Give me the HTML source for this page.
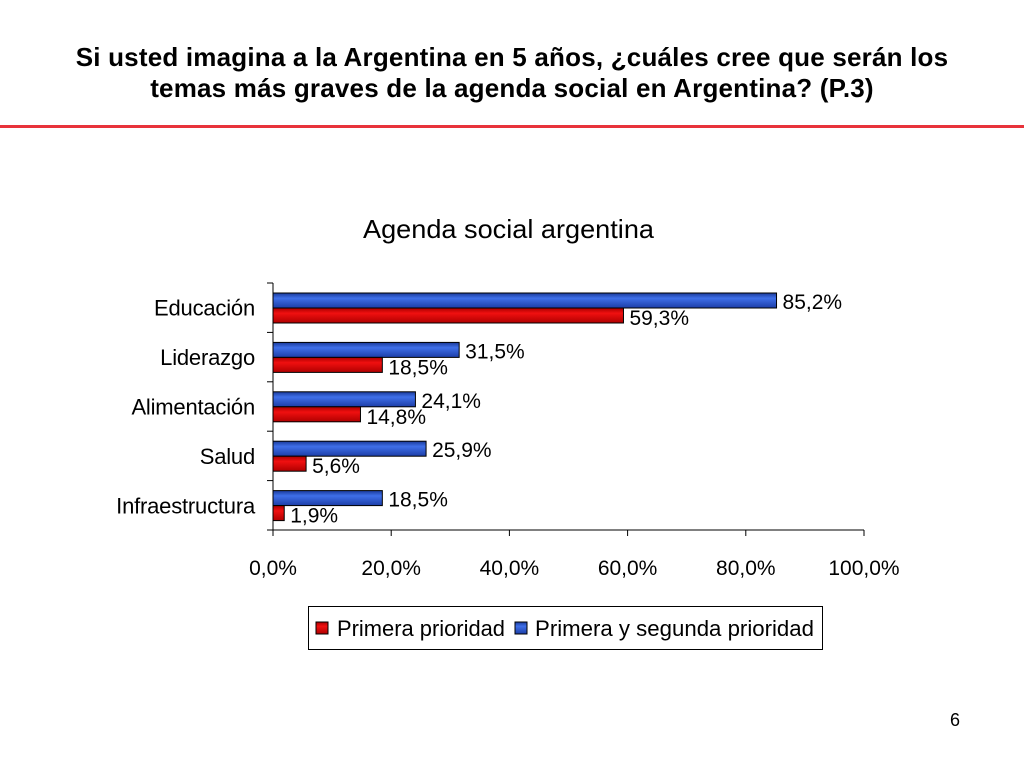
<!DOCTYPE html>
<html><head><meta charset="utf-8"><style>
body{margin:0;width:1024px;height:768px;background:#fff;font-family:"Liberation Sans",sans-serif;overflow:hidden}
.t{position:absolute;left:0;width:1024px;text-align:center;font-weight:bold;font-size:26px;letter-spacing:0.2px;line-height:31px;top:42px}
</style></head><body>
<div class="t">Si usted imagina a la Argentina en 5 años, ¿cuáles cree que serán los<br>temas más graves de la agenda social en Argentina? (P.3)</div>
<div style="position:absolute;left:0;top:125px;width:1024px;height:3px;background:#e8333b"></div>
<div style="position:absolute;left:950px;top:710px;font-size:18px">6</div>
<svg id="c" width="1024" height="768" style="position:absolute;left:0;top:0">
<defs>
<linearGradient id="gb" x1="0" y1="0" x2="0" y2="1"><stop offset="0" stop-color="#1a3a9a"/><stop offset=".35" stop-color="#3f6fe8"/><stop offset="1" stop-color="#1c3ea8"/></linearGradient>
<linearGradient id="gr" x1="0" y1="0" x2="0" y2="1"><stop offset="0" stop-color="#a80000"/><stop offset=".35" stop-color="#f01010"/><stop offset="1" stop-color="#b00000"/></linearGradient>
</defs>
<text x="363" y="238" textLength="291" lengthAdjust="spacingAndGlyphs" font-size="26">Agenda social argentina</text>
</svg>
<script>
const categories=["Educación","Liderazgo","Alimentación","Salud","Infraestructura"];
const primera=[59.3,18.5,14.8,5.6,1.9];
const ambas=[85.2,31.5,24.1,25.9,18.5];
const ticks=[0,20,40,60,80,100];
const svg=document.getElementById('c');
const NS="http://www.w3.org/2000/svg";
const x0=273,x1=864,yT=283,yB=530;
const X=v=>x0+(x1-x0)*v/100;
const band=(yB-yT)/categories.length;
function el(t,a,txt){const e=document.createElementNS(NS,t);for(const k in a)e.setAttribute(k,a[k]);if(txt!==undefined)e.textContent=txt;svg.appendChild(e);return e;}
const fmt=v=>v.toFixed(1).replace('.',',')+'%';
let e;
e=el('line',{x1:x0,y1:yT,x2:x0,y2:yB,stroke:'#000'});


e=el('line',{x1:x0,y1:yB,x2:x1,y2:yB,stroke:'#000'});


for(let i=0;i<=categories.length;i++){const y=yT+band*i;el('line',{x1:x0-6,y1:y,x2:x0,y2:y,stroke:'#000'});}
ticks.forEach(t=>{el('line',{x1:X(t),y1:yB,x2:X(t),y2:yB+6,stroke:'#000'});
e=el('text',{x:X(t),y:575,'text-anchor':'middle','font-size':21},t.toFixed(1).replace('.',',')+'%');

});
categories.forEach((c,i)=>{const b=yT+band*i;
e=el('text',{x:255,y:b+band/2+8,'text-anchor':'end','font-size':22,style:'letter-spacing:-0.2px'},c);


e=el('rect',{x:x0,y:b+10,width:X(ambas[i])-x0,height:15,fill:'url(#gb)',stroke:'#000','stroke-width':1});


e=el('rect',{x:x0,y:b+25,width:X(primera[i])-x0,height:15,fill:'url(#gr)',stroke:'#000','stroke-width':1});


e=el('text',{x:X(ambas[i])+6,y:b+26,'font-size':21},fmt(ambas[i]));


e=el('text',{x:X(primera[i])+6,y:b+42,'font-size':21},fmt(primera[i]));


});
e=el('rect',{x:308.5,y:606.5,width:514,height:43,fill:'#fff',stroke:'#000'});


e=el('rect',{x:316,y:622,width:12,height:12,fill:'url(#gr)',stroke:'#000'});


e=el('text',{x:337,y:636,'font-size':22,textLength:168,lengthAdjust:'spacingAndGlyphs'},'Primera prioridad');


e=el('rect',{x:515,y:622,width:12,height:12,fill:'url(#gb)',stroke:'#000'});


e=el('text',{x:535,y:636,'font-size':22,textLength:279,lengthAdjust:'spacingAndGlyphs'},'Primera y segunda prioridad');


</script>
</body></html>
